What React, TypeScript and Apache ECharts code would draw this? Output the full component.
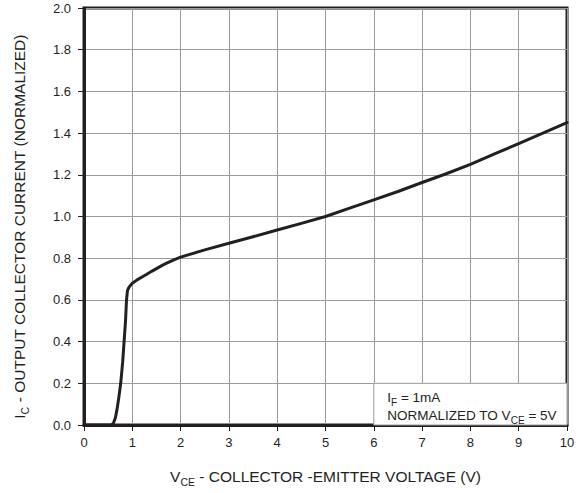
import React, { useEffect, useRef } from "react";
import * as echarts from "echarts";

const vce = [0, 0.3, 0.57, 0.61, 0.65, 0.68, 0.72, 0.76, 0.8, 0.83, 0.86, 0.88, 0.9, 0.93, 0.97, 1.0, 1.1, 1.2, 1.3, 1.4, 1.5, 1.6, 1.7, 1.85, 2, 2.5, 3, 3.5, 4, 4.5, 5, 5.5, 6, 6.5, 7, 7.5, 8, 8.5, 9, 9.5, 10];
const ic = [0, 0, 0, 0.01, 0.035, 0.07, 0.13, 0.2, 0.3, 0.4, 0.5, 0.6, 0.645, 0.66, 0.672, 0.68, 0.696, 0.71, 0.723, 0.737, 0.75, 0.763, 0.775, 0.791, 0.805, 0.84, 0.872, 0.903, 0.935, 0.967, 1.0, 1.04, 1.08, 1.12, 1.163, 1.205, 1.25, 1.3, 1.35, 1.4, 1.45];

const FONT = "'Liberation Sans', Arial, Helvetica, sans-serif";
const TXT = "#231f20";
const GRID = "#9a9a9a";

export default function App() {
  const ref = useRef<HTMLDivElement>(null);
  useEffect(() => {
    if (!ref.current) return;
    const chart = echarts.init(ref.current, null, { renderer: "svg" });
    const data = vce.map((x, i) => [x, ic[i]]);
    const nameRich = {
      a: { fontSize: 15.5, color: TXT, fontFamily: FONT, lineHeight: 18, verticalAlign: "bottom" },
      s: { fontSize: 10.5, color: TXT, fontFamily: FONT, lineHeight: 12, verticalAlign: "bottom", padding: [0, 0, -3, 0] },
    };
    chart.setOption({
      animation: false,
      backgroundColor: "#ffffff",
      textStyle: { fontFamily: FONT },
      grid: {
        left: 84,
        right: 15,
        top: 8,
        bottom: 68,
        show: true,
        borderColor: TXT,
        borderWidth: 3,
        backgroundColor: "transparent",
      },
      xAxis: {
        type: "value",
        min: 0,
        max: 10,
        interval: 1,
        name: "{a|V}{s|CE}{a| - COLLECTOR -EMITTER VOLTAGE (V)}",
        nameLocation: "middle",
        nameGap: 41,
        nameTextStyle: { rich: nameRich },
        axisLine: { show: true, onZero: false, lineStyle: { color: TXT, width: 3 } },
        axisTick: { show: true, inside: false, length: 6, lineStyle: { color: TXT, width: 1 } },
        axisLabel: { fontSize: 13, color: TXT, margin: 11, fontFamily: FONT },
        splitLine: { show: true, lineStyle: { color: GRID, width: 1 } },
      },
      yAxis: {
        type: "value",
        min: 0,
        max: 2,
        interval: 0.2,
        name: "{a|I}{s|C}{a| - OUTPUT COLLECTOR CURRENT (NORMALIZED)}",
        nameLocation: "middle",
        nameGap: 57,
        nameTextStyle: { rich: nameRich, padding: [0, 20, 0, 0] },
        axisLine: { show: true, onZero: false, lineStyle: { color: TXT, width: 3 } },
        axisTick: { show: true, inside: false, length: 6, lineStyle: { color: TXT, width: 1 } },
        axisLabel: {
          fontSize: 13,
          color: TXT,
          margin: 13,
          fontFamily: FONT,
          formatter: (v: number) => v.toFixed(1),
        },
        splitLine: { show: true, lineStyle: { color: GRID, width: 1 } },
      },
      series: [
        {
          type: "line",
          data,
          showSymbol: false,
          smooth: false,
          lineStyle: { color: TXT, width: 3, join: "round", cap: "round" },
          z: 5,
          markArea: {
            silent: true,
            itemStyle: { color: "#ffffff", borderColor: GRID, borderWidth: 1 },
            label: {
              show: true,
              position: "insideLeft",
              distance: 14,
              formatter: "{a|I}{s|F}{a| = 1mA}\n{a|NORMALIZED TO V}{s|CE}{a| = 5V}",
              rich: {
                a: { fontSize: 13.5, color: TXT, fontFamily: FONT, lineHeight: 18, verticalAlign: "bottom" },
                s: { fontSize: 10, color: TXT, fontFamily: FONT, lineHeight: 12, verticalAlign: "bottom", padding: [0, 0, -3, 0] },
              },
            },
            data: [[{ xAxis: 6, yAxis: 0 }, { xAxis: 10, yAxis: 0.2 }]],
          },
        },
      ],
    });
    return () => chart.dispose();
  }, []);
  return (
    <div
      ref={ref}
      style={{ position: "fixed", left: 0, top: 0, width: 582, height: 493, background: "#fff" }}
    />
  );
}
